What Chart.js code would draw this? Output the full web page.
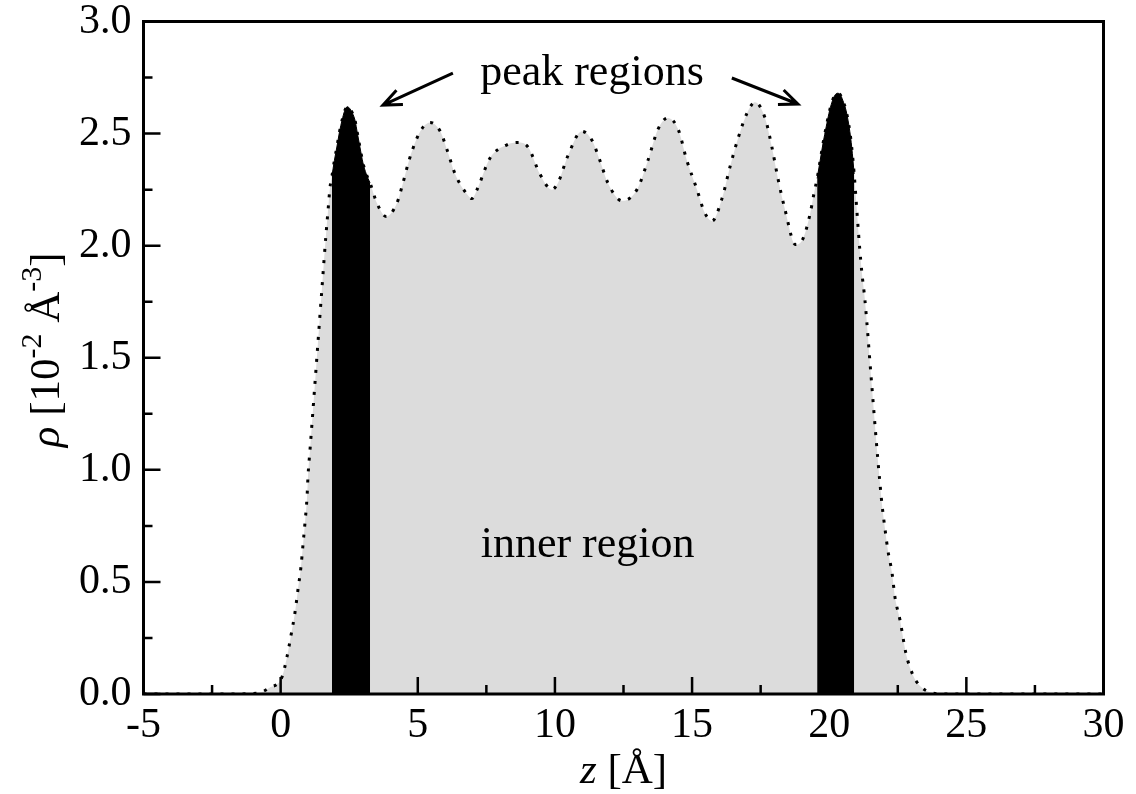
<!DOCTYPE html>
<html lang="en">
<head>
<meta charset="UTF-8">
<title>Density profile</title>
<script src="https://cdn.jsdelivr.net/npm/chart.js@4.4.1/dist/chart.umd.min.js"></script>
<style>
  html, body { margin: 0; padding: 0; background: #fff; }
  canvas { display: block; }
</style>
</head>
<body>
<canvas id="rhoChart" width="1136" height="794"></canvas>
<script>
// z [Å] and rho [10^-2 Å^-3]
const zValues = [-5, -1.5, -1.1, -0.75, -0.42, 0.05, 0.23, 0.38, 0.52, 0.63, 0.74, 0.82, 0.89, 0.96, 1.0, 1.07,
  1.29, 1.5, 1.66, 1.73, 1.8, 1.87, 1.96, 2.05, 2.15, 2.24, 2.33, 2.43, 2.53, 2.62, 2.71, 2.8, 2.89, 3.0, 3.12,
  3.26, 3.51, 3.85, 4.24, 4.46, 4.68, 4.97,
  5.2, 5.45, 5.82, 6.06, 6.36, 6.79, 6.97, 7.16, 7.63, 8.25, 8.65, 9.02, 9.45, 9.89, 10.11, 10.47, 10.98,
  11.35, 11.64, 11.93, 12.45, 12.99, 13.39, 13.76, 14.12, 14.49, 14.81, 15.18, 15.45, 15.73, 16.09, 16.38,
  16.68, 17.0, 17.29, 17.66, 17.91, 18.13, 18.39, 18.77, 19.04, 19.3, 19.44, 19.56, 19.67, 19.78, 19.89,
  19.99, 20.1, 20.2, 20.31, 20.42, 20.52, 20.6, 20.67, 20.75, 20.82, 20.91, 21.0, 21.11, 21.19, 21.3, 21.55,
  21.77, 21.85, 21.92, 22.03, 22.14, 22.29, 22.4, 22.58, 22.8, 23.05, 23.31, 23.67, 24.2, 30];
const rhoValues = [0, 0, 0.002, 0.006, 0.027, 0.076, 0.165, 0.263, 0.361, 0.464, 0.566, 0.673, 0.767, 0.874, 0.977, 1.088,
  1.45, 1.8, 2.06, 2.16, 2.26, 2.31, 2.38, 2.44, 2.51, 2.56, 2.6, 2.62, 2.61, 2.59, 2.56, 2.5, 2.44, 2.37, 2.32,
  2.28, 2.19, 2.13, 2.19, 2.28, 2.38, 2.48,
  2.53, 2.55, 2.51, 2.43, 2.32, 2.23, 2.21, 2.25, 2.39, 2.45, 2.46, 2.44, 2.32, 2.25, 2.28, 2.4, 2.51,
  2.47, 2.38, 2.28, 2.2, 2.25, 2.38, 2.52, 2.57, 2.52, 2.38, 2.25, 2.15, 2.11, 2.21, 2.35,
  2.48, 2.59, 2.64, 2.57, 2.44, 2.3, 2.16, 2.005, 2.03, 2.14, 2.23, 2.3, 2.38, 2.46, 2.53,
  2.59, 2.64, 2.67, 2.68, 2.67, 2.64, 2.61, 2.57, 2.51, 2.44, 2.32, 2.17, 1.99, 1.88, 1.76, 1.38,
  1.05, 0.94, 0.85, 0.74, 0.64, 0.54, 0.43, 0.33, 0.18, 0.085, 0.036, 0.008, 0, 0];

// the two black "peak regions" (z ranges)
const peakRanges = [[1.87, 3.26], [19.56, 20.91]];

const xTicks = [-5, 0, 5, 10, 15, 20, 25, 30];
const xMinorTicks = [-2.5, 2.5, 7.5, 12.5, 17.5, 22.5, 27.5];
const yTicks = [0, 0.5, 1.0, 1.5, 2.0, 2.5, 3.0];
const yMinorTicks = [0.25, 0.75, 1.25, 1.75, 2.25, 2.75];

// annotations, in data units
const noteTexts = ['peak regions', 'inner region'];
const notePos = [[11.35, 2.716], [11.19, 0.611]];
const arrowFrom = [[6.28, 2.77], [16.45, 2.748]];
const arrowTo = [[3.73, 2.627], [18.86, 2.632]];

const serif = "'Liberation Serif', 'Times New Roman', serif";

const curve = zValues.map((z, i) => ({ x: z, y: rhoValues[i] }));
const peakSets = peakRanges.map(r => curve.filter(p => p.x >= r[0] && p.x <= r[1]));

// frame, inward ticks, axis titles and notes
const decorPlugin = {
  id: 'decor',
  afterDatasetsDraw(chart) {
    const ctx = chart.ctx;
    const a = chart.chartArea;
    const xs = chart.scales.x, ys = chart.scales.y;
    ctx.save();
    ctx.strokeStyle = '#000';
    ctx.lineWidth = 2.5;
    ctx.beginPath();
    xTicks.forEach(v => { const px = xs.getPixelForValue(v); ctx.moveTo(px, a.bottom); ctx.lineTo(px, a.bottom - 17); });
    xMinorTicks.forEach(v => { const px = xs.getPixelForValue(v); ctx.moveTo(px, a.bottom); ctx.lineTo(px, a.bottom - 9); });
    yTicks.forEach(v => { const py = ys.getPixelForValue(v); ctx.moveTo(a.left, py); ctx.lineTo(a.left + 17, py); });
    yMinorTicks.forEach(v => { const py = ys.getPixelForValue(v); ctx.moveTo(a.left, py); ctx.lineTo(a.left + 9, py); });
    ctx.stroke();
    ctx.lineWidth = 3;
    ctx.strokeRect(a.left, a.top, a.right - a.left, a.bottom - a.top);

    // arrows
    ctx.lineWidth = 3;
    arrowFrom.forEach((f, i) => {
      const x0 = xs.getPixelForValue(f[0]), y0 = ys.getPixelForValue(f[1]);
      const x1 = xs.getPixelForValue(arrowTo[i][0]), y1 = ys.getPixelForValue(arrowTo[i][1]);
      const ang = Math.atan2(y1 - y0, x1 - x0);
      ctx.beginPath();
      ctx.moveTo(x0, y0);
      ctx.lineTo(x1, y1);
      ctx.moveTo(x1 - 20 * Math.cos(ang - 0.4), y1 - 20 * Math.sin(ang - 0.4));
      ctx.lineTo(x1, y1);
      ctx.lineTo(x1 - 20 * Math.cos(ang + 0.4), y1 - 20 * Math.sin(ang + 0.4));
      ctx.stroke();
    });

    // notes
    ctx.fillStyle = '#000';
    ctx.font = '44px ' + serif;
    ctx.textAlign = 'center';
    ctx.textBaseline = 'alphabetic';
    noteTexts.forEach((t, i) => {
      ctx.fillText(t, xs.getPixelForValue(notePos[i][0]), ys.getPixelForValue(notePos[i][1]));
    });

    // x title: z [Å]
    const big = '43px ' + serif, bigIt = 'italic 43px ' + serif, sup = '30px ' + serif;
    ctx.textAlign = 'left';
    ctx.font = bigIt;
    const wz = ctx.measureText('z').width;
    ctx.font = big;
    const wr = ctx.measureText(' [Å]').width;
    let x = (a.left + a.right) / 2 - (wz + wr) / 2;
    ctx.font = bigIt; ctx.fillText('z', x, 783);
    ctx.font = big; ctx.fillText(' [Å]', x + wz, 783);

    // y title: rho [10^-2 Å^-3]
    const parts = [
      ['ρ', bigIt, 0], [' [10', big, 0], ['-2', sup, -18], [' Å', big, 0], ['-3', sup, -18], [']', big, 0]
    ];
    let total = 0;
    parts.forEach(p => { ctx.font = p[1]; p.push(ctx.measureText(p[0]).width); total += p[3]; });
    ctx.translate(59, (a.top + a.bottom) / 2 - 8);
    ctx.rotate(-Math.PI / 2);
    x = -total / 2;
    parts.forEach(p => { ctx.font = p[1]; ctx.fillText(p[0], x, p[2]); x += p[3]; });
    ctx.restore();
  }
};

const datasets = [{
  data: curve,
  order: 2,
  borderColor: '#000',
  borderWidth: 3,
  borderDash: [3, 8],
  borderCapStyle: 'butt',
  backgroundColor: '#dcdcdc',
  fill: 'origin',
  pointRadius: 0,
  cubicInterpolationMode: 'monotone'
}];
peakSets.forEach(set => datasets.push({
  data: set,
  order: 1,
  borderColor: '#000',
  borderWidth: 1,
  backgroundColor: '#000',
  fill: 'origin',
  pointRadius: 0,
  cubicInterpolationMode: 'monotone'
}));

new Chart(document.getElementById('rhoChart'), {
  type: 'line',
  data: { datasets: datasets },
  plugins: [decorPlugin],
  options: {
    responsive: false,
    animation: false,
    devicePixelRatio: 1,
    layout: { padding: { top: 21.5, right: 32.5, bottom: 0, left: 0 } },
    plugins: { legend: { display: false }, tooltip: { enabled: false } },
    scales: {
      x: {
        type: 'linear', min: -5, max: 30,
        grid: { display: false }, border: { display: false },
        ticks: { color: '#000', font: { family: serif, size: 42, lineHeight: 1 }, padding: 3, maxRotation: 0, autoSkip: false },
        afterBuildTicks: s => { s.ticks = xTicks.map(v => ({ value: v })); },
        afterFit: s => { s.height = 100; s.paddingLeft = 0; s.paddingRight = 0; }
      },
      y: {
        type: 'linear', min: 0, max: 3,
        grid: { display: false }, border: { display: false },
        ticks: { color: '#000', font: { family: serif, size: 42, lineHeight: 1 }, padding: 4, callback: v => v.toFixed(1) },
        afterBuildTicks: s => { s.ticks = yTicks.map(v => ({ value: v })); },
        afterFit: s => { s.width = 143.5; s.paddingTop = 0; s.paddingBottom = 0; }
      }
    }
  }
});
</script>
</body>
</html>
